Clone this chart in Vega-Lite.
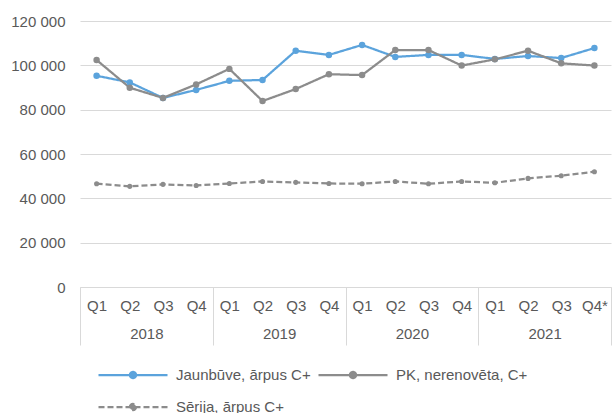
{
  "$schema": "https://vega.github.io/schema/vega-lite/v6.json",
  "width": 531,
  "height": 266,
  "autosize": {"type": "none"},
  "padding": {"left": 80, "top": 21, "right": 1, "bottom": 126},
  "background": "white",
  "config": {
    "view": {"stroke": null},
    "font": "Liberation Sans",
    "axisY": {"grid": true, "gridColor": "#d9d9d9", "gridWidth": 1, "domain": false, "ticks": false, "labelPadding": 15, "labelFontSize": 15, "labelColor": "#595959", "labelFont": "Liberation Sans", "tickCount": 6, "title": null, "labelExpr": "replace(format(datum.value, ','), ',', ' ')"}
  },
  "data": {
    "values": [
      {"k": "Q1 2018", "year": "2018", "s": "Jaunbūve, ārpus C+", "v": 95300},
      {"k": "Q2 2018", "year": "2018", "s": "Jaunbūve, ārpus C+", "v": 92300},
      {"k": "Q3 2018", "year": "2018", "s": "Jaunbūve, ārpus C+", "v": 85300},
      {"k": "Q4 2018", "year": "2018", "s": "Jaunbūve, ārpus C+", "v": 88900},
      {"k": "Q1 2019", "year": "2019", "s": "Jaunbūve, ārpus C+", "v": 93000},
      {"k": "Q2 2019", "year": "2019", "s": "Jaunbūve, ārpus C+", "v": 93400},
      {"k": "Q3 2019", "year": "2019", "s": "Jaunbūve, ārpus C+", "v": 106600},
      {"k": "Q4 2019", "year": "2019", "s": "Jaunbūve, ārpus C+", "v": 104700},
      {"k": "Q1 2020", "year": "2020", "s": "Jaunbūve, ārpus C+", "v": 109200},
      {"k": "Q2 2020", "year": "2020", "s": "Jaunbūve, ārpus C+", "v": 103800},
      {"k": "Q3 2020", "year": "2020", "s": "Jaunbūve, ārpus C+", "v": 104700},
      {"k": "Q4 2020", "year": "2020", "s": "Jaunbūve, ārpus C+", "v": 104700},
      {"k": "Q1 2021", "year": "2021", "s": "Jaunbūve, ārpus C+", "v": 102900},
      {"k": "Q2 2021", "year": "2021", "s": "Jaunbūve, ārpus C+", "v": 104200},
      {"k": "Q3 2021", "year": "2021", "s": "Jaunbūve, ārpus C+", "v": 103300},
      {"k": "Q4* 2021", "year": "2021", "s": "Jaunbūve, ārpus C+", "v": 107800},
      {"k": "Q1 2018", "year": "2018", "s": "PK, nerenovēta, C+", "v": 102400},
      {"k": "Q2 2018", "year": "2018", "s": "PK, nerenovēta, C+", "v": 89900},
      {"k": "Q3 2018", "year": "2018", "s": "PK, nerenovēta, C+", "v": 85300},
      {"k": "Q4 2018", "year": "2018", "s": "PK, nerenovēta, C+", "v": 91400},
      {"k": "Q1 2019", "year": "2019", "s": "PK, nerenovēta, C+", "v": 98400},
      {"k": "Q2 2019", "year": "2019", "s": "PK, nerenovēta, C+", "v": 83900},
      {"k": "Q3 2019", "year": "2019", "s": "PK, nerenovēta, C+", "v": 89300},
      {"k": "Q4 2019", "year": "2019", "s": "PK, nerenovēta, C+", "v": 96000},
      {"k": "Q1 2020", "year": "2020", "s": "PK, nerenovēta, C+", "v": 95600},
      {"k": "Q2 2020", "year": "2020", "s": "PK, nerenovēta, C+", "v": 106900},
      {"k": "Q3 2020", "year": "2020", "s": "PK, nerenovēta, C+", "v": 106900},
      {"k": "Q4 2020", "year": "2020", "s": "PK, nerenovēta, C+", "v": 99900},
      {"k": "Q1 2021", "year": "2021", "s": "PK, nerenovēta, C+", "v": 102700},
      {"k": "Q2 2021", "year": "2021", "s": "PK, nerenovēta, C+", "v": 106600},
      {"k": "Q3 2021", "year": "2021", "s": "PK, nerenovēta, C+", "v": 100900},
      {"k": "Q4* 2021", "year": "2021", "s": "PK, nerenovēta, C+", "v": 99900},
      {"k": "Q1 2018", "year": "2018", "s": "Sērija, ārpus C+", "v": 46600},
      {"k": "Q2 2018", "year": "2018", "s": "Sērija, ārpus C+", "v": 45400},
      {"k": "Q3 2018", "year": "2018", "s": "Sērija, ārpus C+", "v": 46300},
      {"k": "Q4 2018", "year": "2018", "s": "Sērija, ārpus C+", "v": 45800},
      {"k": "Q1 2019", "year": "2019", "s": "Sērija, ārpus C+", "v": 46700},
      {"k": "Q2 2019", "year": "2019", "s": "Sērija, ārpus C+", "v": 47600},
      {"k": "Q3 2019", "year": "2019", "s": "Sērija, ārpus C+", "v": 47200},
      {"k": "Q4 2019", "year": "2019", "s": "Sērija, ārpus C+", "v": 46700},
      {"k": "Q1 2020", "year": "2020", "s": "Sērija, ārpus C+", "v": 46600},
      {"k": "Q2 2020", "year": "2020", "s": "Sērija, ārpus C+", "v": 47600},
      {"k": "Q3 2020", "year": "2020", "s": "Sērija, ārpus C+", "v": 46600},
      {"k": "Q4 2020", "year": "2020", "s": "Sērija, ārpus C+", "v": 47600},
      {"k": "Q1 2021", "year": "2021", "s": "Sērija, ārpus C+", "v": 47000},
      {"k": "Q2 2021", "year": "2021", "s": "Sērija, ārpus C+", "v": 49000},
      {"k": "Q3 2021", "year": "2021", "s": "Sērija, ārpus C+", "v": 50200},
      {"k": "Q4* 2021", "year": "2021", "s": "Sērija, ārpus C+", "v": 52000}
    ]
  },
  "layer": [
    {
      "mark": {"type": "point", "opacity": 0},
      "encoding": {
        "x": {"field": "year", "type": "ordinal", "sort": null,
          "scale": {"type": "band", "paddingInner": 0, "paddingOuter": 0},
          "axis": {"orient": "bottom", "title": null, "domain": false, "grid": false, "ticks": true, "tickBand": "extent", "tickSize": 58, "tickColor": "#d9d9d9", "tickWidth": 1, "labelPadding": -19, "labelFontSize": 15, "labelColor": "#595959", "labelFont": "Liberation Sans", "labelAngle": 0}},
        "y": {"field": "v", "type": "quantitative", "scale": {"domain": [0, 120000]}}
      }
    },
    {
      "encoding": {
        "x": {"field": "k", "type": "ordinal", "sort": null,
          "scale": {"type": "point", "padding": 0.5},
          "axis": {"orient": "bottom", "title": null, "domain": true, "domainColor": "#d9d9d9", "domainWidth": 1, "ticks": false, "grid": false, "labelPadding": 11, "labelFontSize": 15, "labelColor": "#595959", "labelFont": "Liberation Sans", "labelAngle": 0, "labelExpr": "split(datum.value, ' ')[0]"}},
        "y": {"field": "v", "type": "quantitative", "scale": {"domain": [0, 120000]}}
      },
      "layer": [
        {
          "mark": {"type": "line", "strokeWidth": 2.25},
          "encoding": {
            "color": {"field": "s", "type": "nominal",
              "scale": {"domain": ["Jaunbūve, ārpus C+", "PK, nerenovēta, C+", "Sērija, ārpus C+"], "range": ["#5ba3dc", "#8c8c8c", "#8c8c8c"]},
              "legend": {"orient": "none", "legendX": 17, "legendY": 343, "direction": "horizontal", "columns": 2, "title": null,
                "symbolType": "M-1,0L1,0M-0.09,0A0.09,0.09,0,1,1,0.09,0A0.09,0.09,0,1,1,-0.09,0Z",
                "symbolSize": 4761, "symbolStrokeWidth": 2.25, "labelFontSize": 15, "labelColor": "#595959", "labelFont": "Liberation Sans",
                "labelOffset": 7, "columnPadding": 6, "rowPadding": 10, "clipHeight": 22, "padding": 0, "labelLimit": 300,
                "encode": {"symbols": {"update": {"fill": {"scale": "color", "field": "value"}}}}}},
            "strokeDash": {"field": "s", "type": "nominal",
              "scale": {"domain": ["Jaunbūve, ārpus C+", "PK, nerenovēta, C+", "Sērija, ārpus C+"], "range": [[1, 0], [1, 0], [6, 3]]}}
          }
        },
        {
          "transform": [{"filter": "datum.s != 'Sērija, ārpus C+'"}],
          "mark": {"type": "point", "filled": true, "opacity": 1, "size": 42},
          "encoding": {
            "color": {"field": "s", "type": "nominal"}
          }
        },
        {
          "transform": [{"filter": "datum.s == 'Sērija, ārpus C+'"}],
          "mark": {"type": "point", "filled": true, "opacity": 1, "size": 26},
          "encoding": {
            "color": {"field": "s", "type": "nominal"}
          }
        }
      ]
    }
  ],
  "resolve": {"scale": {"x": "independent"}}
}
